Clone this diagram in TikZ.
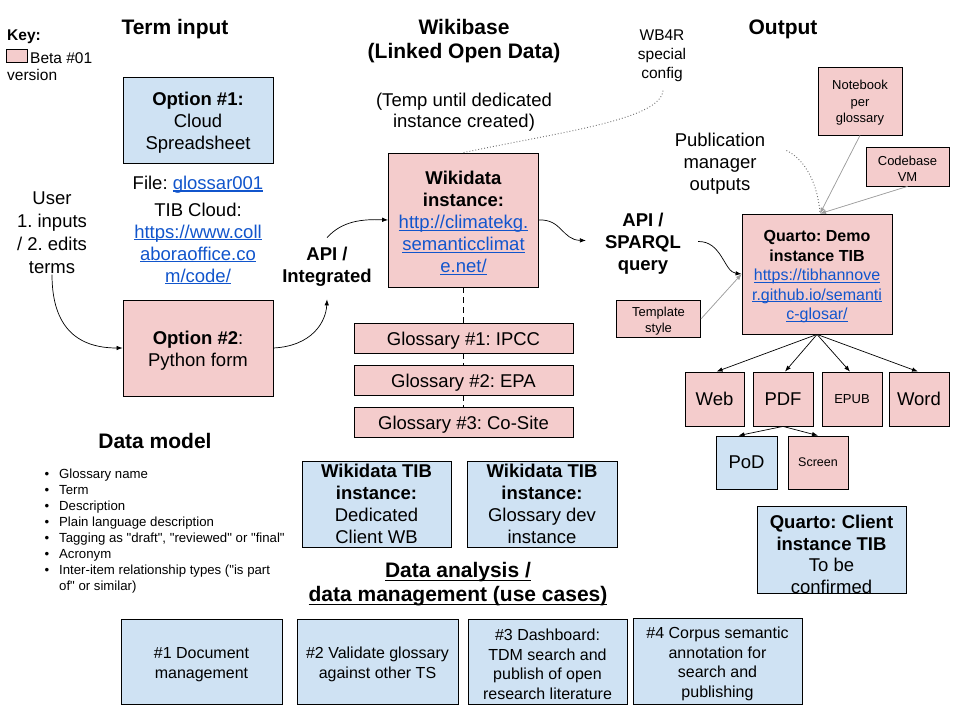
\documentclass[tikz,border=0pt]{standalone}
\usepackage{fontspec}
\setmainfont{Liberation Sans}[Ligatures=TeXOff]
\usetikzlibrary{arrows.meta,calc}
\definecolor{pinkc}{HTML}{F4CCCC}
\definecolor{bluec}{HTML}{CFE2F3}
\definecolor{linkc}{HTML}{1155CC}
\definecolor{arrgray}{HTML}{9E9E9E}
\definecolor{dotgray}{HTML}{707070}
\newcommand\szB{\fontsize{18.5}{22}\selectfont}
\newcommand\szH{\fontsize{21}{24}\selectfont\bfseries}
\newcommand\szM{\fontsize{16}{19.5}\selectfont}
\newcommand\szK{\fontsize{15.5}{19}\selectfont}
\newcommand\szS{\fontsize{13}{16.5}\selectfont}
\newcommand\szL{\fontsize{13.2}{16}\selectfont}
\newcommand\boxstrut{\rule{0pt}{1.05em}}
\newcommand\mylink[1]{{\color{linkc}\setbox0=\hbox{#1}\rlap{\rule[-0.13em]{\wd0}{0.065em}}\box0}}
\newcommand\myuline[1]{{\setbox0=\hbox{#1}\rlap{\rule[-0.16em]{\wd0}{0.07em}}\box0}}
\frenchspacing
\begin{document}
\frenchspacing
\begin{tikzpicture}[x=1pt,y=-1pt,
  box/.style={draw=black, line width=0.8pt, inner sep=0pt, align=center},
  pinkbox/.style={box, fill=pinkc},
  bluebox/.style={box, fill=bluec},
  txt/.style={inner sep=1pt, align=center, yshift=-2.5pt},
  arr/.style={-{Latex[length=6pt,width=4.5pt]}, line width=0.7pt},
  garr/.style={arr, draw=arrgray, fill=arrgray},
  dotl/.style={draw=dotgray, line width=0.9pt, dash pattern=on 0.9pt off 2.1pt},
  dashl/.style={draw=black, line width=0.8pt, dash pattern=on 6pt off 4pt}]
\useasboundingbox[fill=white] (0,0) rectangle (960,720);

% Key
\node[txt, anchor=west, font=\szK\bfseries] (keyt) at (6,34) {Key:};
\node[pinkbox, minimum width=21, minimum height=13] (keybox) at (16.5,56) {};
\node[txt, anchor=west, font=\szK] (keyb) at (29,56) {Beta \#01};
\node[txt, anchor=west, font=\szK] (keyv) at (6,72) {version};

% Titles
\node[txt, font=\szH] (termtitle) at (175,27) {Term input};
\node[txt, font=\szH] (wbtitle) at (464,39) {Wikibase\\(Linked Open Data)};
\node[txt, font=\szH] (outtitle) at (783,27) {Output};
\node[txt, font=\szH] (dmtitle) at (155,438) {Data model};
\node[txt, font=\szH] (datitle) at (458,582) {\myuline{Data analysis /}\\\myuline{data management (use cases)}};

% Term input
\node[bluebox, minimum width=150, minimum height=86, font=\szB] (opt1) at (198,120)
  {\boxstrut\textbf{Option \#1:}\\Cloud\\Spreadsheet};
\node[txt, font=\szB] (file) at (198,182) {File: \mylink{glossar001}};
\node[txt, font=\szB] (cloud) at (198,241) {TIB Cloud:\\\mylink{https://www.coll}\\\mylink{aboraoffice.co}\\\mylink{m/code/}};
\node[txt, font=\fontsize{18.5}{23}\selectfont] (user) at (52,230) {User\\1. inputs\\/ 2. edits\\terms};
\node[pinkbox, minimum width=150, minimum height=96, font=\szB] (opt2) at (198,348)
  {\boxstrut\textbf{Option \#2}:\\Python form};
\node[txt, font=\szB\bfseries] (api1) at (327,264) {API /\\Integrated};

% Wikibase
\node[txt, font=\fontsize{18.5}{21}\selectfont] (temp) at (464,110) {(Temp until dedicated\\instance created)};
\node[txt, font=\szK] (wb4r) at (662,53) {WB4R\\special\\config};
\node[pinkbox, minimum width=150, minimum height=134, font=\szB] (wd) at (463.5,220)
  {\boxstrut\textbf{Wikidata}\\\textbf{instance:}\\\mylink{http://climatekg.}\\\mylink{semanticclimat}\\\mylink{e.net/}};
\node[pinkbox, minimum width=219, minimum height=30, font=\szB] (g1) at (463.5,338) {\boxstrut Glossary \#1: IPCC};
\node[pinkbox, minimum width=219, minimum height=30, font=\szB] (g2) at (463.5,380) {\boxstrut Glossary \#2: EPA};
\node[pinkbox, minimum width=219, minimum height=30, font=\szB] (g3) at (463.5,422) {\boxstrut Glossary \#3: Co-Site};
\node[bluebox, minimum width=149, minimum height=86, font=\szB] (tib1) at (376.5,504)
  {\textbf{Wikidata TIB}\\\textbf{instance:}\\Dedicated\\Client WB};
\node[bluebox, minimum width=150, minimum height=86, font=\szB] (tib2) at (542,504)
  {\textbf{Wikidata TIB}\\\textbf{instance:}\\Glossary dev\\instance};

% Output
\node[txt, font=\szB\bfseries] (api2) at (643,241) {API /\\SPARQL\\query};
\node[txt, font=\szB] (pub) at (720,161) {Publication\\manager\\outputs};
\node[pinkbox, minimum width=150, minimum height=120, font=\szM] (qd) at (817,274)
  {\boxstrut\textbf{Quarto: Demo}\\\textbf{instance TIB}\\\mylink{https://tibhannove}\\\mylink{r.github.io/semanti}\\\mylink{c-glosar/}};
\node[pinkbox, minimum width=84, minimum height=68, font=\szS] (nb) at (860,101) {\boxstrut Notebook\\per\\glossary};
\node[pinkbox, minimum width=83, minimum height=39, font=\szS] (cb) at (907.5,166.5) {\boxstrut Codebase\\VM};
\node[pinkbox, minimum width=84, minimum height=37, font=\szS] (tp) at (658.5,319) {\boxstrut Template\\style};
\node[pinkbox, minimum width=59, minimum height=54, font=\szB] (web) at (714.5,399) {Web};
\node[pinkbox, minimum width=60, minimum height=54, font=\szB] (pdf) at (783,399) {PDF};
\node[pinkbox, minimum width=60, minimum height=54, font=\szS] (epub) at (852,399) {EPUB};
\node[pinkbox, minimum width=60, minimum height=54, font=\szB] (word) at (919,399) {Word};
\node[bluebox, minimum width=61, minimum height=53, font=\szB] (pod) at (746.5,462.5) {PoD};
\node[pinkbox, minimum width=60, minimum height=53, font=\fontsize{12.5}{15}\selectfont] (scr) at (818,462.5) {Screen};
\node[bluebox, minimum width=149, minimum height=86, font=\fontsize{18.5}{21.5}\selectfont] (qc) at (831.5,550)
  {\rule{0pt}{1.2em}\textbf{Quarto: Client}\\\textbf{instance TIB}\\To be\\confirmed};

% Data model list
\node[txt, anchor=west, align=left, font=\szL] (dm) at (58,529) {%
  \llap{\textbullet\hspace{10pt}}Glossary name\\
  \llap{\textbullet\hspace{10pt}}Term\\
  \llap{\textbullet\hspace{10pt}}Description\\
  \llap{\textbullet\hspace{10pt}}Plain language description\\
  \llap{\textbullet\hspace{10pt}}Tagging as "draft", "reviewed" or "final"\\
  \llap{\textbullet\hspace{10pt}}Acronym\\
  \llap{\textbullet\hspace{10pt}}Inter-item relationship types ("is part\\
  of" or similar)};

% Use cases
\node[bluebox, minimum width=161, minimum height=85, font=\szM] (u1) at (201.5,661.5) {\boxstrut\#1 Document\\management};
\node[bluebox, minimum width=161, minimum height=85, font=\szM] (u2) at (377.5,661.5) {\boxstrut\#2 Validate glossary\\against other TS};
\node[bluebox, minimum width=159, minimum height=85, font=\szM] (u3) at (547.5,661.5) {\boxstrut\#3 Dashboard:\\TDM search and\\publish of open\\research literature};
\node[bluebox, minimum width=169, minimum height=86, font=\szM] (u4) at (717.5,661) {\boxstrut\#4 Corpus semantic\\annotation for\\search and\\publishing};

% Connectors
\draw[arr] (user.south) .. controls (52,330) and (80,348) .. (opt2.west);
\draw[arr] (opt2.east) .. controls (312,346) and (326,322) .. ($(api1.south)+(0,12)$);
\draw[arr] ($(api1.north)+(0,-8)$) .. controls (342,221) and (362,219) .. (wd.west);
\draw[arr] (wd.east) .. controls (562,219) and (562,240) .. ($(api2.west)+(-18,-3)$);
\draw[arr] ($(api2.east)+(16,-2)$) .. controls (722,241) and (724,272) .. (qd.west);
\draw[dashl] (wd.south) -- (g1.north);
\draw[dashl] (g1.south) -- (g2.north);
\draw[dashl] (g2.south) -- (g3.north);
\draw[dotl] ($(wb4r.south)+(1,8)$) .. controls (660,120) and (560,132) .. (wd.north);
\coordinate (qtop) at ($(qd.north)+(3,0)$);
\draw[dotl] ($(pub.east)+(20,-13)$) .. controls (806,160) and (818,185) .. (qtop);
\draw[garr] (nb.south) -- (qtop);
\draw[garr] (cb.south) -- (qtop);
\draw[garr] (tp.east) -- (qd.west);
\draw[arr] (qd.south) -- ($(web.north)+(2,0)$);
\draw[arr] (qd.south) -- ($(pdf.north)+(2,0)$);
\draw[arr] (qd.south) -- ($(epub.north)+(-2,0)$);
\draw[arr] (qd.south) -- ($(word.north)+(-1,0)$);
\draw[arr] (pdf.south) -- ($(pod.north)+(-8,0)$);
\draw[arr] (pdf.south) -- (scr.north);
\end{tikzpicture}
\end{document}
